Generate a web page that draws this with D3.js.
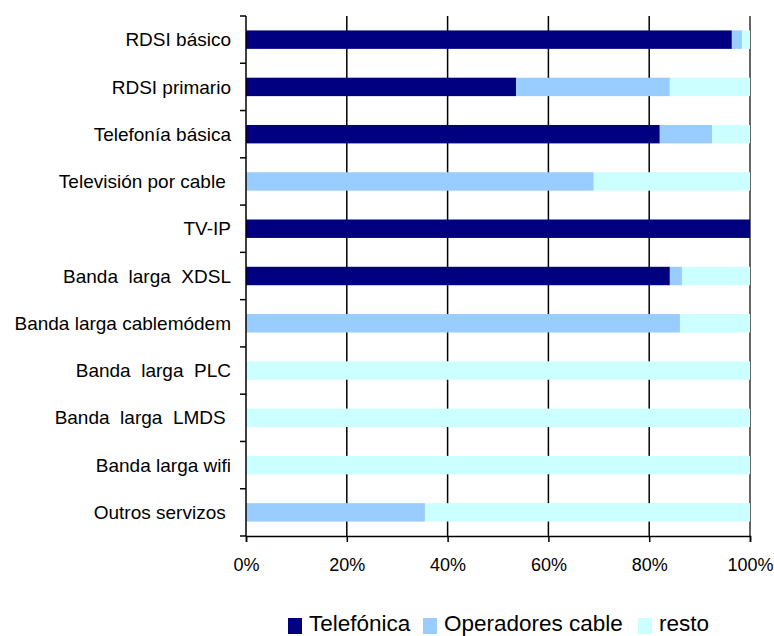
<!DOCTYPE html>
<meta charset="utf-8">
<style>
  body { margin: 0; background: #fff; }
  text { font-family: "Liberation Sans", Arial, sans-serif; }
</style>
<script src="https://d3js.org/d3.v7.min.js"></script>
<div id="chart"></div>
<script>
// categories, top to bottom
var categories = ["RDSI básico", "RDSI primario", "Telefonía básica", "Televisión por cable ",
  "TV-IP", "Banda  larga  XDSL", "Banda larga cablemódem", "Banda  larga  PLC",
  "Banda  larga  LMDS ", "Banda larga wifi", "Outros servizos "];
var seriesNames = ["Telefónica", "Operadores cable", "resto"];
var telefonica = [96.4, 53.6, 82.1, 0, 100, 84.1, 0, 0, 0, 0, 0];
var cable      = [2.0, 30.5, 10.4, 69.0, 0, 2.4, 86.1, 0, 0, 0, 35.5];
var resto      = [1.6, 15.9, 7.5, 31.0, 0, 13.5, 13.9, 100, 100, 100, 64.5];
var xTicks = [0, 20, 40, 60, 80, 100];
var colors = ["#000080", "#99ccff", "#ccffff"];

var margin = {top: 16, right: 24, bottom: 100, left: 246},
    width = 774 - margin.left - margin.right,
    height = 636 - margin.top - margin.bottom;

var svg = d3.select("#chart").append("svg")
    .attr("width", 774).attr("height", 636)
  .append("g")
    .attr("transform", "translate(" + margin.left + "," + margin.top + ")");

var rows = categories.map(function(c, i) {
  return {cat: c, "Telefónica": telefonica[i], "Operadores cable": cable[i], "resto": resto[i]};
});
var stacked = d3.stack().keys(seriesNames)(rows);

var x = d3.scaleLinear().domain([0, 100]).range([0, width]);
var y = d3.scaleBand().domain(categories).range([0, height]).paddingInner(0.61).paddingOuter(0.305);
var yEdge = d3.scaleLinear().domain([0, categories.length]).range([0, height]);

// gridlines
svg.append("g").selectAll("line")
  .data(xTicks.slice(1))
  .enter().append("line")
    .attr("x1", function(d) { return x(d); }).attr("x2", function(d) { return x(d); })
    .attr("y1", 0).attr("y2", height)
    .attr("stroke", function(d) { return d === 100 ? "#333" : "#000"; })
    .attr("stroke-width", 1.5);

// bars
svg.append("g").selectAll("g")
  .data(stacked)
  .enter().append("g")
    .attr("fill", function(d, i) { return colors[i]; })
  .selectAll("rect")
  .data(function(d) { return d; })
  .enter().append("rect")
    .attr("x", function(d) { return x(d[0]); })
    .attr("y", function(d) { return y(d.data.cat); })
    .attr("width", function(d) { return x(d[1]) - x(d[0]); })
    .attr("height", y.bandwidth());

// y axis: ticks between categories, labels centered on bands
var yAxis = svg.append("g");
yAxis.append("line").attr("x1", 0).attr("x2", 0).attr("y1", 0).attr("y2", height)
  .attr("stroke", "#000").attr("stroke-width", 1.5);
yAxis.selectAll(".tk").data(d3.range(categories.length + 1))
  .enter().append("line")
    .attr("x1", -6).attr("x2", 0)
    .attr("y1", function(d) { return yEdge(d); }).attr("y2", function(d) { return yEdge(d); })
    .attr("stroke", "#000").attr("stroke-width", 1.5);
yAxis.selectAll("text").data(categories)
  .enter().append("text")
    .attr("x", -15)
    .attr("y", function(d) { return y(d) + y.bandwidth() / 2; })
    .attr("dy", "0.35em")
    .attr("text-anchor", "end")
    .attr("xml:space", "preserve")
    .style("white-space", "pre")
    .style("font-size", "19px")
    .text(function(d) { return d; });

// x axis
var xAxis = svg.append("g").attr("transform", "translate(0," + height + ")")
  .call(d3.axisBottom(x).tickValues(xTicks).tickSize(6).tickPadding(16)
    .tickFormat(function(d) { return d + "%"; }));
xAxis.select(".domain").attr("stroke-width", 1.5);
xAxis.selectAll(".tick line").attr("stroke-width", 1.5);
xAxis.selectAll("text").style("font-size", "18px").attr("fill", "#000")
  .style("font-family", "Liberation Sans, Arial, sans-serif");

// legend
var legendX = [42, 177, 392];
var legend = svg.append("g").attr("transform", "translate(0," + (height + 95) + ")");
seriesNames.forEach(function(name, i) {
  legend.append("rect").attr("x", legendX[i]).attr("y", -13).attr("width", 14).attr("height", 16)
    .attr("fill", colors[i]);
  legend.append("text").attr("x", legendX[i] + 21).attr("y", 0)
    .style("font-size", "22.5px").text(name);
});
</script>
